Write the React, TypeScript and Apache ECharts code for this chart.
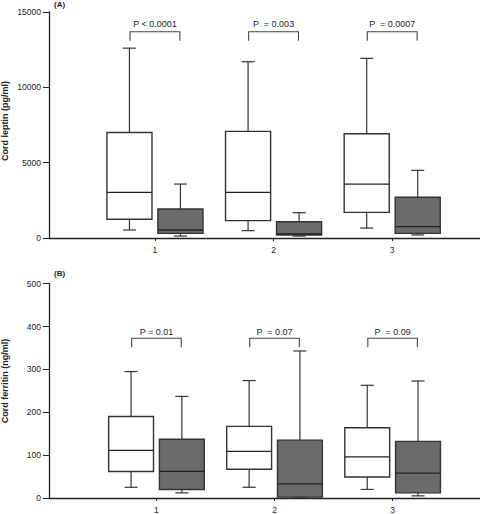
import React, { useEffect, useRef } from "react";
import * as echarts from "echarts";

// ---- data ----
const categories = [1, 2, 3];
const tickLabels = ["1", "2", "3"];

// [min, q1, median, q3, max]
const leptinWhite = [
  [530, 1240, 3030, 7000, 12600],
  [490, 1150, 3030, 7080, 11700],
  [660, 1700, 3580, 6920, 11920],
];
const leptinGray = [
  [130, 310, 530, 1920, 3580],
  [130, 200, 265, 1080, 1680],
  [200, 310, 750, 2700, 4490],
];
const ferritinWhite = [
  [25, 62, 111, 190, 295],
  [25, 67, 109, 167, 274],
  [20, 49, 96, 164, 263],
];
const ferritinGray = [
  [12, 20, 62, 137, 237],
  [1, 2, 33, 135, 343],
  [5, 12, 58, 132, 273],
];

const leptinPLabels = ["P < 0.0001", "P  = 0.003", "P  = 0.0007"];
const ferritinPLabels = ["P = 0.01", "P  = 0.07", "P  = 0.09"];
// bracket [top, bottom, text]
const leptinBracket = [13690, 13090, 14180];
const ferritinBracket = [372.6, 351.6, 387];

const leptinTicks = [0, 5000, 10000, 15000];
const ferritinTicks = [0, 100, 200, 300, 400, 500];

const FONT = "Liberation Sans";
const INK = "#222";
const BOX_W = 0.38;
const OFFSET = 0.215;

function boxRenderer(offset: number, fill: string) {
  return (params: any, api: any) => {
    const x = api.value(0) + offset;
    const p = (v: number) => api.coord([x, v]);
    const [cx, yMin] = p(api.value(1));
    const yQ1 = p(api.value(2))[1];
    const yMed = p(api.value(3))[1];
    const yQ3 = p(api.value(4))[1];
    const yMax = p(api.value(5))[1];
    const hw = api.size([BOX_W, 0])[0] / 2;
    const cap = 6.5;
    const ls = { stroke: "#333", lineWidth: 1.2 };
    return {
      type: "group",
      children: [
        { type: "line", shape: { x1: cx, y1: yMax, x2: cx, y2: yQ3 }, style: ls },
        { type: "line", shape: { x1: cx, y1: yQ1, x2: cx, y2: yMin }, style: ls },
        { type: "line", shape: { x1: cx - cap, y1: yMax, x2: cx + cap, y2: yMax }, style: ls },
        { type: "line", shape: { x1: cx - cap, y1: yMin, x2: cx + cap, y2: yMin }, style: ls },
        {
          type: "rect",
          shape: { x: cx - hw, y: yQ3, width: 2 * hw, height: yQ1 - yQ3 },
          style: { fill, stroke: "#333", lineWidth: 1.4 },
        },
        { type: "line", shape: { x1: cx - hw, y1: yMed, x2: cx + hw, y2: yMed }, style: { stroke: "#222", lineWidth: 1.3 } },
      ],
    };
  };
}

function bracketRenderer(labels: string[], bracket: number[]) {
  return (params: any, api: any) => {
    const x = api.value(0);
    const [xl, yt] = api.coord([x - 0.21, bracket[0]]);
    const [xr, yb] = api.coord([x + 0.21, bracket[1]]);
    const [xc, ytx] = api.coord([x, bracket[2]]);
    return {
      type: "group",
      children: [
        {
          type: "polyline",
          shape: { points: [[xl, yb], [xl, yt], [xr, yt], [xr, yb]] },
          style: { stroke: "#444", lineWidth: 1.1, fill: null },
        },
        {
          type: "text",
          x: xc,
          y: ytx,
          style: {
            text: labels[params.dataIndex],
            fill: INK,
            font: `9px "${FONT}"`,
            align: "center",
            verticalAlign: "middle",
          },
        },
      ],
    };
  };
}

function toRows(stats: number[][]) {
  return stats.map((s, i) => [categories[i], ...s]);
}

export default function App() {
  const ref = useRef<HTMLDivElement>(null);
  useEffect(() => {
    if (!ref.current) return;
    const chart = echarts.init(ref.current, null, { renderer: "svg" });
    const xAxisBase = (gridIndex: number, min: number) => ({
      type: "value",
      gridIndex,
      min,
      max: 3.74,
      axisLine: { lineStyle: { color: INK, width: 1.3 } },
      axisTick: { customValues: categories, length: 3, lineStyle: { color: INK } },
      axisLabel: {
        customValues: categories,
        formatter: (v: number) => tickLabels[categories.indexOf(v)] ?? "",
        color: INK,
        fontFamily: FONT,
        fontSize: 8.5,
        margin: 7,
      },
      splitLine: { show: false },
    });
    const yAxisBase = (gridIndex: number, ticks: number[]) => ({
      type: "value",
      gridIndex,
      min: ticks[0],
      max: ticks[ticks.length - 1],
      interval: ticks[1] - ticks[0],
      axisLine: { show: true, lineStyle: { color: INK, width: 1.3 } },
      axisTick: { show: true, length: 6, lineStyle: { color: INK } },
      axisLabel: {
        color: INK,
        fontFamily: FONT,
        fontSize: 8.5,
        margin: 8,
        formatter: (v: number) => String(v),
      },
      splitLine: { show: false },
    });
    const rows = (d: number[][]) => toRows(d);
    const custom = (xi: number, data: any[], renderItem: any) => ({
      type: "custom",
      xAxisIndex: xi,
      yAxisIndex: xi,
      data,
      renderItem,
      encode: { x: 0, y: [1, 2, 3, 4, 5] },
      silent: true,
    });
    chart.setOption({
      animation: false,
      backgroundColor: "#fff",
      grid: [
        { left: 49, top: 12, width: 431, height: 226 },
        { left: 49, top: 283.7, width: 431, height: 214.3 },
      ],
      xAxis: [xAxisBase(0, 0.107), xAxisBase(1, 0.09)],
      yAxis: [yAxisBase(0, leptinTicks), yAxisBase(1, ferritinTicks)],
      series: [
        custom(0, rows(leptinWhite), boxRenderer(-OFFSET, "#ffffff")),
        custom(0, rows(leptinGray), boxRenderer(OFFSET, "#6b6b6b")),
        {
          ...custom(0, categories.map((c) => [c, leptinBracket[0], leptinBracket[1]]), bracketRenderer(leptinPLabels, leptinBracket)),
          encode: { x: 0, y: [1, 2] },
        },
        custom(1, rows(ferritinWhite), boxRenderer(-OFFSET, "#ffffff")),
        custom(1, rows(ferritinGray), boxRenderer(OFFSET, "#6b6b6b")),
        {
          ...custom(1, categories.map((c) => [c, ferritinBracket[0], ferritinBracket[1]]), bracketRenderer(ferritinPLabels, ferritinBracket)),
          encode: { x: 0, y: [1, 2] },
        },
      ],
      graphic: [
        {
          type: "text",
          x: 5,
          y: 121,
          rotation: Math.PI / 2,
          style: {
            text: "Cord leptin (pg/ml)",
            font: `bold 9px "${FONT}"`,
            fill: INK,
            align: "center",
            verticalAlign: "middle",
          },
        },
        {
          type: "text",
          x: 5,
          y: 381,
          rotation: Math.PI / 2,
          style: {
            text: "Cord ferritin (ng/ml)",
            font: `bold 9px "${FONT}"`,
            fill: INK,
            align: "center",
            verticalAlign: "middle",
          },
        },
        {
          type: "text",
          x: 54,
          y: 4,
          style: { text: "(A)", font: `bold 8px "${FONT}"`, fill: INK, align: "left", verticalAlign: "middle" },
        },
        {
          type: "text",
          x: 54,
          y: 273,
          style: { text: "(B)", font: `bold 8px "${FONT}"`, fill: INK, align: "left", verticalAlign: "middle" },
        },
      ],
    });
    return () => chart.dispose();
  }, []);
  return (
    <div
      ref={ref}
      style={{ position: "fixed", left: 0, top: 0, width: 480, height: 514, background: "#fff" }}
    />
  );
}
